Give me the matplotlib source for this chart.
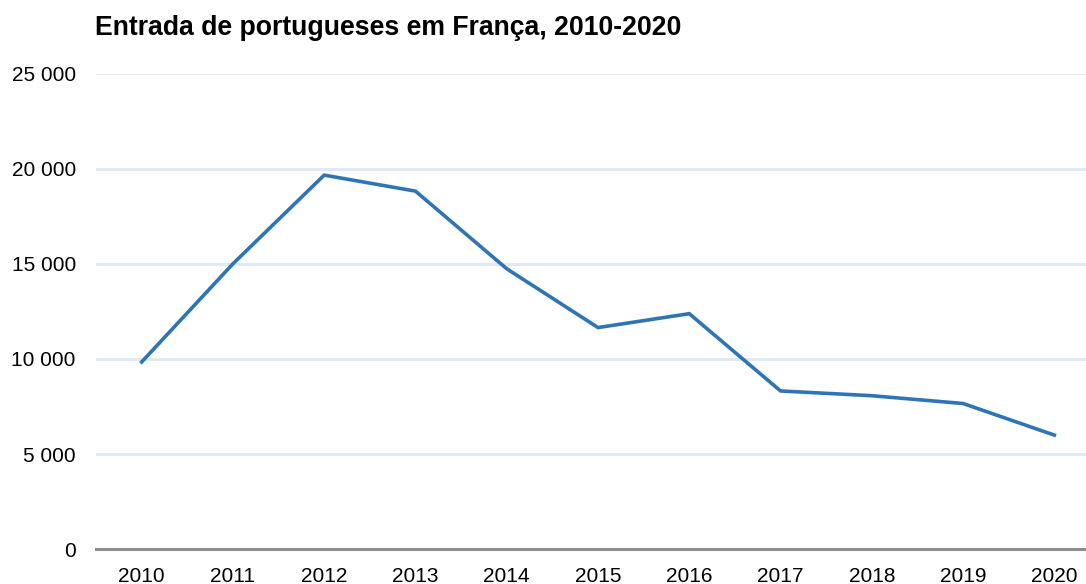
import matplotlib
matplotlib.use("Agg")
import matplotlib.pyplot as plt
from matplotlib.ticker import FuncFormatter

years = ["2010", "2011", "2012", "2013", "2014", "2015", "2016", "2017", "2018", "2019", "2020"]
entries = [9840, 15000, 19660, 18820, 14740, 11650, 12380, 8320, 8070, 7660, 6000]
yticks = [0, 5000, 10000, 15000, 20000, 25000]
title = "Entrada de portugueses em França, 2010-2020"

plt.rcParams['font.family'] = ['Liberation Sans', 'DejaVu Sans']

W, H = 1086, 584
fig = plt.figure(figsize=(W / 100, H / 100), dpi=100)
ax = fig.add_axes([96 / W, 1 - 549.3 / H, (1100 - 96) / W, (549.3 - 73.5) / H])

x = list(range(len(years)))
ax.plot(x, entries, color="#2E75B6", lw=2.6, solid_joinstyle="miter", zorder=3, clip_on=False)

ax.set_xlim(-0.5, len(years) - 0.5)
ax.set_ylim(0, 25000)
ax.set_xticks(x)
ax.set_xticklabels(years)
ax.set_yticks(yticks)
ax.yaxis.set_major_formatter(FuncFormatter(lambda v, p: f"{int(v):,}".replace(",", " ")))

for v in yticks[1:]:
    ax.axhline(v, color="#DEEAF6", lw=2.2, zorder=1)

for s in ["top", "right", "left"]:
    ax.spines[s].set_visible(False)
ax.spines["bottom"].set_color("#8C8C8C")
ax.spines["bottom"].set_linewidth(2.2)
ax.spines["bottom"].set_zorder(2)

ax.tick_params(axis="both", length=0, labelsize=15, colors="black")
ax.tick_params(axis="y", pad=14.5)
ax.tick_params(axis="x", pad=12.5)

fig.text(95 / W, 1 - 28 / H, title, fontsize=19.2, fontweight="bold", ha="left", va="center")

fig.savefig("out.png", dpi=100)
